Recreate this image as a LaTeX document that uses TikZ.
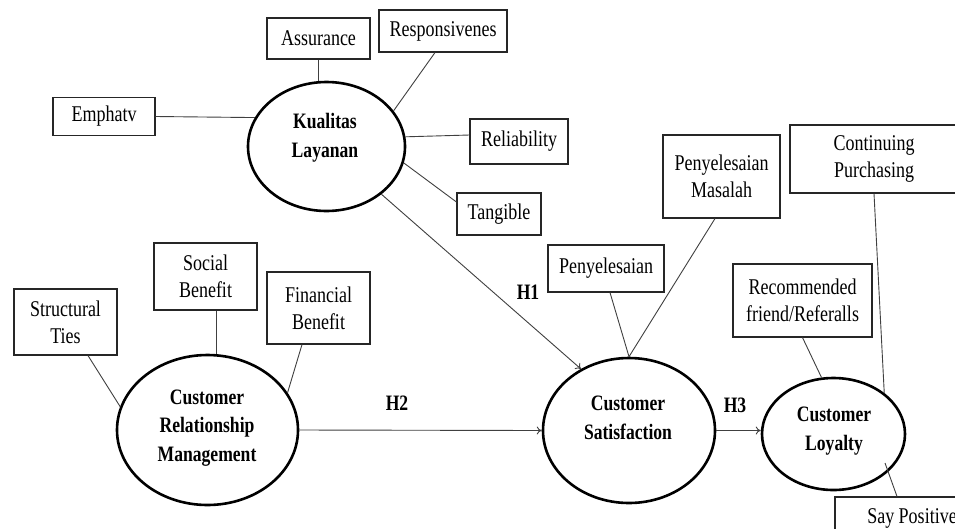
\documentclass[tikz,border=0pt]{standalone}
\usepackage{fontspec}
\setmainfont{Liberation Serif}[FakeStretch=0.8]
\usetikzlibrary{arrows.meta,calc,shapes.geometric}
\begin{document}
\begin{tikzpicture}[x=1pt,y=-1pt,
  box/.style={draw=black!85, line width=1.1pt, rectangle, inner sep=0pt, align=center, font=\fontsize{22.5}{27}\selectfont},
  ell/.style={draw=black, line width=2.6pt, ellipse, inner sep=0pt},
  etxt/.style={align=center, font=\fontsize{22}{28.5}\selectfont\bfseries, inner sep=0pt},
  conn/.style={draw=black!75, line width=0.9pt},
  arr/.style={conn, -{To[length=5pt,width=8pt]}},
  hlab/.style={font=\fontsize{22}{26}\selectfont\bfseries, inner sep=0pt}]
\useasboundingbox[fill=white] (0,0) rectangle (955,528);
% ellipses
\node[ell, minimum width=157, minimum height=129] (KL) at (326.5,146.5) {};
\node[ell, minimum width=181, minimum height=150] (CRM) at (207.5,430) {};
\node[ell, minimum width=172, minimum height=145] (CS) at (629,430.5) {};
\node[ell, minimum width=143, minimum height=112] (CL) at (833.5,434) {};
\node[etxt] (KLt) at (325,137.5) {Kualitas\\Layanan};
\node[etxt] (CRMt) at (207,428) {Customer\\Relationship\\Management};
\node[etxt] (CSt) at (628,418) {Customer\\Satisfaction};
\node[etxt] (CLt) at (834,431) {Customer\\Loyalty};
% boxes
\node[box, minimum width=103, minimum height=41] (assur) at (318.5,38.5) {Assurance};
\node[box, minimum width=128, minimum height=42] (resp) at (443,31) {Responsivenes};
\node[box, minimum width=102, minimum height=38] (emph) at (104,116.5) {Emphatv};
\node[box, minimum width=98, minimum height=45] (reli) at (519,141.5) {Reliability};
\node[box, minimum width=84, minimum height=42] (tang) at (499,214) {Tangible};
\node[box, minimum width=117, minimum height=83] (pm) at (721.5,176.5) {Penyelesaian\\Masalah};
\node[box, minimum width=168, minimum height=68] (cp) at (874,159) {Continuing\\Purchasing};
\node[box, minimum width=116, minimum height=47] (peny) at (606,268.5) {Penyelesaian};
\node[box, minimum width=139, minimum height=73] (rec) at (802.5,300.5) {Recommended\\friend/Referalls};
\node[box, minimum width=154, minimum height=42] (say) at (912,518) {Say Positive};
\node[box, minimum width=103, minimum height=66] (struct) at (65.5,322) {Structural\\Ties};
\node[box, minimum width=103, minimum height=67] (social) at (205.5,276.5) {Social\\Benefit};
\node[box, minimum width=103, minimum height=72] (fin) at (318.5,308) {Financial\\Benefit};
\coordinate (sp) at (885,463);
% connectors
\draw[conn] (emph.east) -- (KL.158);
\draw[conn] (assur.south) -- (assur.south |- KL.north);
\draw[conn] ([xshift=-8pt]resp.south) -- (KL.28);
\draw[conn] (KL.7) -- ([yshift=6.5pt]reli.west);
\draw[conn] (KL.-12) -- ([yshift=12pt]tang.west);
\draw[arr] (KL.-41) -- (CS.128);
\draw[conn] ([xshift=22.5pt]struct.south) -- (CRM.165);
\draw[conn] ([xshift=10.5pt]social.south) -- ([xshift=10.5pt]social.south |- CRM.north);
\draw[conn] ([xshift=-16.5pt]fin.south) -- (CRM.25);
\draw[arr] (CRM.east) -- (CS.west);
\draw[conn] ([xshift=4pt]peny.south) -- (CS.north);
\draw[conn] ([xshift=-6.5pt]pm.south) -- (CS.north);
\draw[arr] (CS.east) -- (CS.east -| CL.west);
\draw[conn] (rec.south) -- (CL.102);
\draw[conn] (cp.south) -- (CL.39);
\draw[conn] (sp) -- ([xshift=-15pt]say.north);
% labels
\node[hlab] (h1) at (528,292) {H1};
\node[hlab] (h2) at (397,403) {H2};
\node[hlab] (h3) at (735,405) {H3};
\end{tikzpicture}
\end{document}
